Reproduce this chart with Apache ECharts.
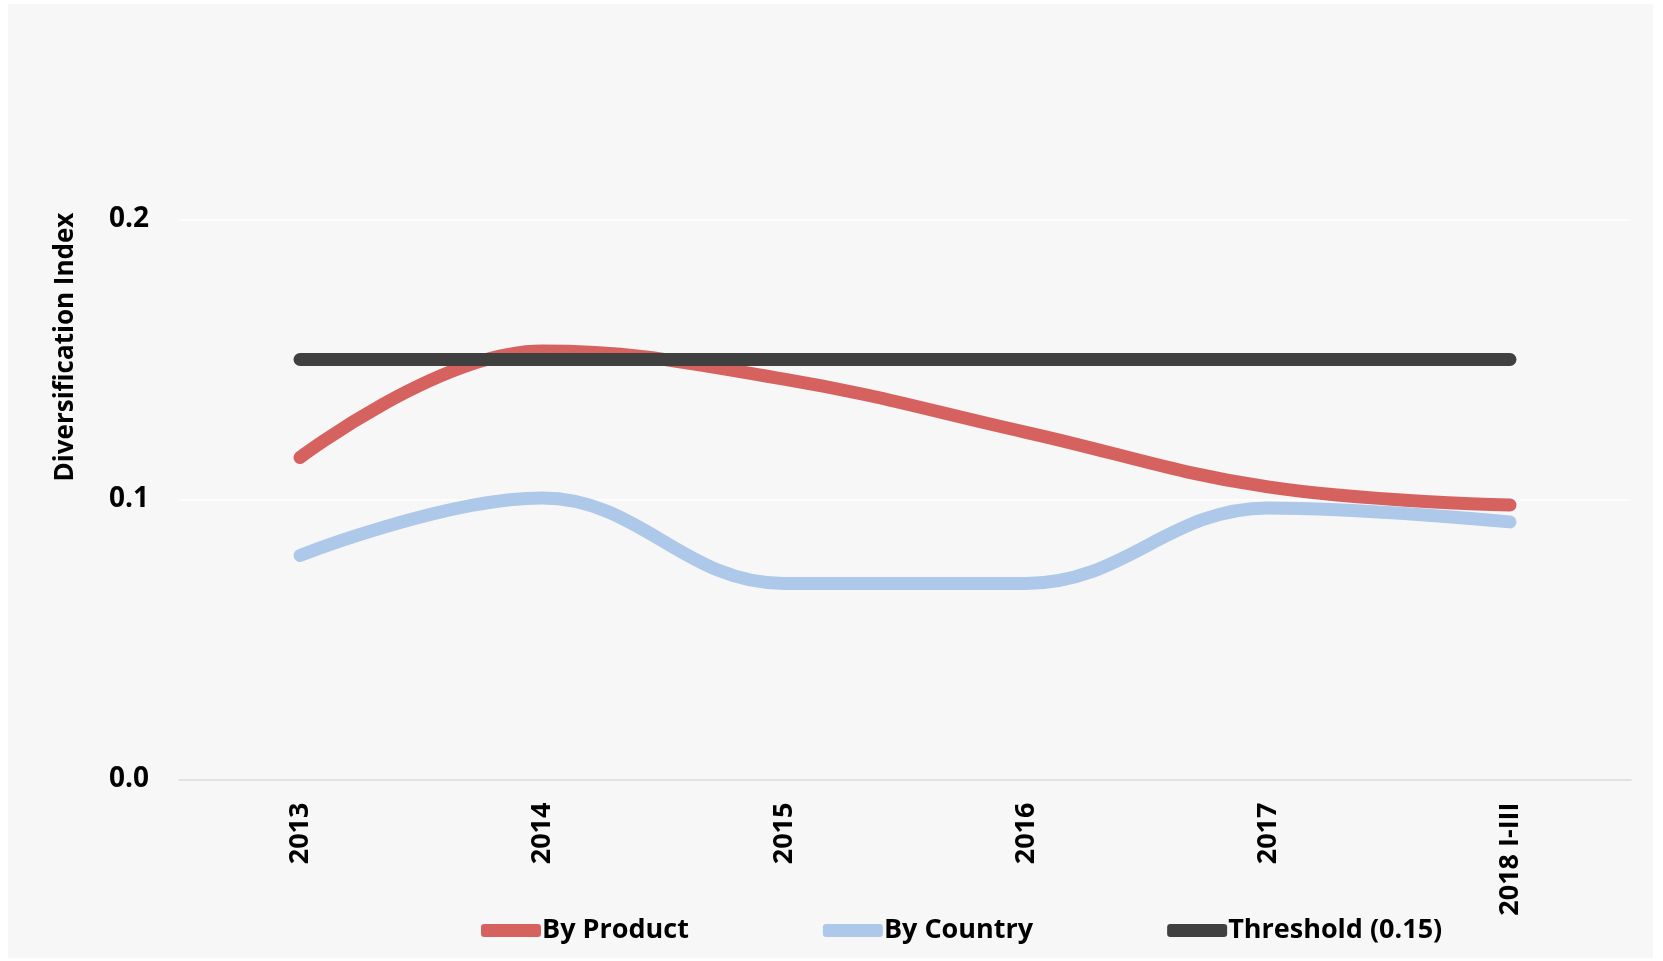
<!DOCTYPE html>
<html>
<head>
<meta charset="utf-8">
<script src="https://cdn.jsdelivr.net/npm/echarts@6/dist/echarts.min.js"></script>
<style>
  html, body { margin: 0; padding: 0; background: #ffffff; }
  #panel { position: absolute; left: 8px; top: 4px; width: 1645px; height: 954px; background: #f7f7f7; }
  #chart { position: absolute; left: 0; top: 0; width: 1663px; height: 961px; }
</style>
</head>
<body>
<div id="panel"></div>
<div id="chart"></div>
<script>
// 数据
var years = ['2013', '2014', '2015', '2016', '2017', '2018 I-III'];
var byProduct = [0.115, 0.153, 0.143, 0.124, 0.1045, 0.098];
var byCountry = [0.080, 0.1005, 0.070, 0.070, 0.097, 0.092];
var threshold = [0.15, 0.15, 0.15, 0.15, 0.15, 0.15];
var yTicks = [0, 0.1, 0.2];

var fontFam = '"Open Sans", "DejaVu Sans", sans-serif';

var chart = echarts.init(document.getElementById('chart'), null, { renderer: 'canvas' });

function lineSeries(name, data, color) {
    return {
        name: name,
        type: 'line',
        data: data,
        smooth: 0.4,
        showSymbol: false,
        symbol: 'none',
        lineStyle: { color: color, width: 13, cap: 'round', join: 'round' },
        itemStyle: { color: color },
        emphasis: { disabled: true }
    };
}

var option = {
    backgroundColor: 'transparent',
    animation: false,
    grid: { left: 179, right: 32, top: 219.5, bottom: 181.5, containLabel: false },
    legend: {
        data: ['By Product', 'By Country', 'Threshold (0.15)'],
        left: 476,
        top: 912,
        itemWidth: 60,
        itemHeight: 13,
        itemGap: 134,
        icon: 'roundRect',
        textStyle: { color: '#000', fontSize: 27, fontWeight: 'bold', fontFamily: fontFam, padding: [0, 0, 0, -4] }
    },
    xAxis: {
        type: 'category',
        data: years,
        boundaryGap: true,
        axisLine: { show: true, lineStyle: { color: '#d9d9d9', width: 1.5 } },
        axisTick: { show: false },
        axisLabel: {
            rotate: 90,
            margin: 23,
            color: '#000',
            fontSize: 27,
            fontWeight: 'bold',
            fontFamily: fontFam
        }
    },
    yAxis: {
        type: 'value',
        min: yTicks[0],
        max: yTicks[yTicks.length - 1],
        interval: 0.1,
        axisLine: { show: false },
        axisTick: { show: false },
        splitLine: { show: true, lineStyle: { color: '#ffffff', width: 1.5 } },
        axisLabel: {
            margin: 30,
            color: '#000',
            fontSize: 28,
            fontWeight: 'bold',
            fontFamily: fontFam,
            formatter: function (v) { return v.toFixed(1); }
        }
    },
    graphic: [{
        type: 'text',
        x: 66,
        y: 347,
        rotation: Math.PI / 2,
        style: {
            text: 'Diversification Index',
            fill: '#000',
            font: 'bold 26px ' + fontFam,
            textAlign: 'center',
            textVerticalAlign: 'middle'
        }
    }],
    series: [
        lineSeries('By Product', byProduct, '#d6625f'),
        lineSeries('By Country', byCountry, '#adc8e8'),
        lineSeries('Threshold (0.15)', threshold, '#404040')
    ]
};

chart.setOption(option);
</script>
</body>
</html>
